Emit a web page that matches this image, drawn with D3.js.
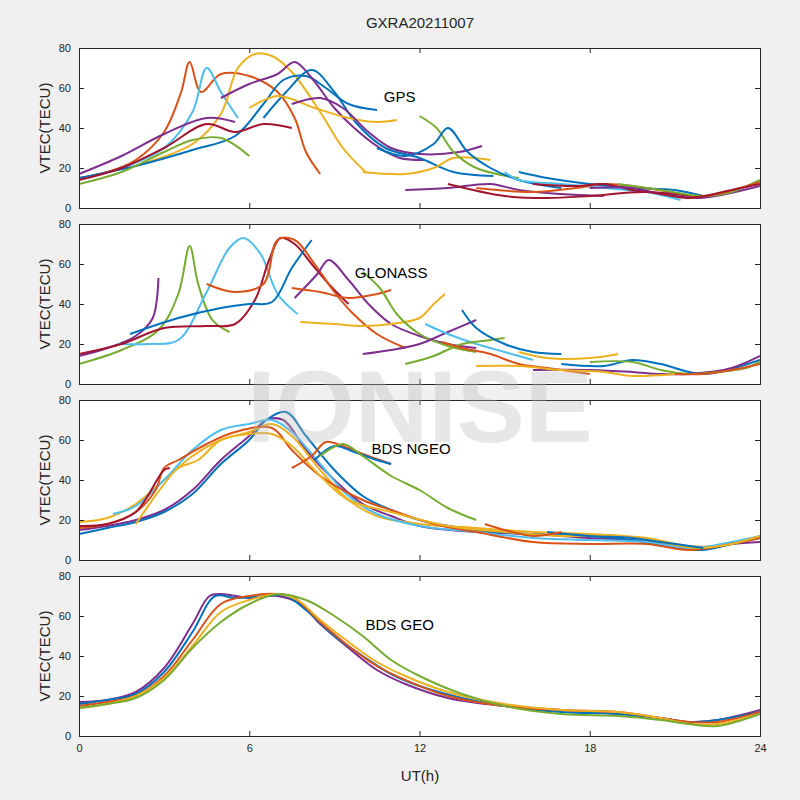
<!DOCTYPE html>
<html><head><meta charset="utf-8">
<script src="https://cdn.jsdelivr.net/npm/d3@7"></script>
<style>body{margin:0;background:#f0f0f0}svg{font-family:Arial,"Liberation Sans",sans-serif}</style>
</head><body><svg id="c" width="800" height="800"></svg>
<script>
// arcs: [hour, VTEC] samples
const gpsArcs = [
  [[0,15],[1,18],[2,24],[3,38],[3.6,58],[3.9,73],[4.3,58],[5,67],[6,66],[7,58],[7.6,45],[8,28],[8.5,17]],
  [[1.5,20],[3,30],[4,48],[4.5,70],[5,58],[5.6,45]],
  [[2.2,22],[4,32],[5,47],[5.6,70],[6.2,77],[6.8,76],[7.5,68],[8.5,48],[9.3,30],[10.1,18]],
  [[0,15],[2,21],[4,29],[5.5,36],[6.5,52],[7.2,64],[8,66],[8.7,60],[9.5,52],[10.5,49]],
  [[0,17],[1.5,26],[3,37],[4.5,45],[5.5,43]],
  [[0,12],[1.5,18],[3,28],[4,34],[5,35],[6,26]],
  [[0,14],[1.5,20],[3,30],[4.5,42],[5.5,38],[6.5,42],[7.5,40]],
  [[5,55],[6,62],[7,67],[7.6,73],[8.2,65],[9,50],[9.7,40],[10.6,30],[11.3,25],[12.2,24]],
  [[6.5,45],[7.3,58],[8.2,69],[9,58],[9.8,42],[10.8,30],[12,25],[13.2,18],[14.6,16]],
  [[6,50],[7,56],[8.3,50],[9.5,45],[10.5,43],[11.2,44]],
  [[7.5,52],[8.5,55],[9.3,50],[10.2,38],[11,30],[12,27],[13.4,28],[14.2,31]],
  [[10,18],[11.5,17],[12.5,20],[13.2,25],[14.5,24]],
  [[12,46],[12.6,40],[13.2,28],[14,20],[15.5,15]],
  [[10.5,30],[11.5,26],[12.5,32],[13,40],[13.7,28],[14.5,20],[15.5,14],[17,10]],
  [[11.5,9],[13,10],[14.5,12],[15.5,9],[17,7],[18.5,6]],
  [[15,18],[15.5,14],[17,12],[18.5,10],[20,8],[21.2,4]],
  [[15.5,18],[16.5,15],[18,12],[19.5,10],[21,9],[22,6]],
  [[14,10],[16,8],[17.5,10],[18.5,12],[20,10],[21.5,6]],
  [[16,12],[17.5,11],[18.5,12],[19.5,9],[21,7],[22,5]],
  [[18,10],[19.5,10],[20.5,7],[21.8,5],[22.8,7],[24,11]],
  [[19,12],[20.5,9],[22,6],[23,8],[24,14]],
  [[21.5,5],[22.5,7],[23.3,10],[24,13]],
  [[13,12],[15,6],[16.5,5],[18,6],[20,8],[21.5,5],[23,9],[24,12]]
];
const gpsColors = [1,5,2,0,3,4,6,3,0,2,3,2,4,0,3,5,0,1,6,3,4,1,6];

const glonassArcs = [
  [[0,14],[1,18],[2,24],[2.6,33],[2.8,53]],
  [[0,10],[1.5,17],[2.8,27],[3.5,45],[3.9,69],[4.2,50],[4.7,32],[5.3,26]],
  [[1.4,20],[2.5,20],[3.5,22],[4.5,46],[5.3,68],[5.8,73],[6.4,65],[7,45],[7.7,35]],
  [[0,15],[1.5,20],[3,28],[4.5,29],[5.5,30],[6.2,42],[6.7,62],[7.1,73],[7.6,70],[8.2,60],[8.8,50],[9.5,40]],
  [[1.8,25],[3.5,33],[5,38],[6,40],[6.8,41],[7.5,58],[8.2,72]],
  [[4.5,50],[5.5,46],[6.5,50],[7,72],[7.6,72],[8.3,60],[9,46],[9.6,36],[10.5,25],[11.5,18]],
  [[7.6,43],[8.4,55],[8.8,62],[9.5,52],[10.2,40],[11,30],[12,24],[13,20],[14,18]],
  [[7.5,48],[8.5,46],[9.5,43],[10.5,45],[11,47]],
  [[7.8,31],[9,30],[10,29],[11,30],[12,33],[12.5,40],[12.9,45]],
  [[10,56],[10.6,48],[11.2,35],[12,25],[13,19],[14,16]],
  [[10,15],[11,17],[12,20],[13,26],[14,32]],
  [[12.2,30],[13,25],[14,20],[15,16],[16,12]],
  [[11.5,10],[12.5,14],[13.5,20],[14.5,22],[15,23]],
  [[12.8,21],[13.5,18],[14.5,15],[15.5,10],[16.5,8],[18,5]],
  [[13.5,37],[14,28],[15,20],[16,16],[17,15]],
  [[15.5,16],[16.5,13],[18,13],[19,15]],
  [[17,10],[18.5,9],[19.5,12],[20.5,10],[22,5],[24,12]],
  [[16,7],[18,7],[19.5,6],[20.5,5],[21.5,5],[23,8],[24,14]],
  [[18,11],[19.5,11],[20.5,7],[21.5,5],[22.5,6],[23.5,8],[24,11]],
  [[14,9],[15.5,9],[17,7],[18.5,6],[19.5,4],[21,5]],
  [[21,5],[22,5],[23,7],[24,10]]
];
const glonassColors = [3,4,5,6,0,1,3,1,2,4,3,5,4,1,0,2,0,3,4,2,1];

const ngeoArcs = [
  [[0,15],[1,17],[2,20],[3,25],[4,35],[5,50],[6,62],[6.6,70],[7.2,70],[8,55],[9,40],[10,28],[11,22],[12,17],[14,14],[16,13],[18,11],[19.5,10],[21,7],[22,6],[23,8],[24,9]],
  [[0,13],[1,16],[2,19],[3,24],[4,33],[5,48],[6,60],[6.6,70],[7.3,74],[8,62],[9,45],[10,32],[11,25],[12,20],[14,15],[16,13],[18,12],[19.5,10],[21,6],[22,5],[23,8],[24,11]],
  [[0,19],[1,21],[2,28],[3,40],[4,52],[5,60],[6,64],[6.8,68],[7.5,62],[8.5,45],[9.5,30],[10.5,22],[12,18],[14,16],[16,14],[18,13],[20,11],[21.5,7],[22.5,7],[24,12]],
  [[1.2,23],[2,27],[3,40],[4,55],[5,65],[6,68],[6.8,70],[7.5,64],[8.5,48],[9.5,32],[10.5,23],[12,17],[14,14],[16,11],[18,10],[20,9],[21.5,6],[23,9],[24,12]],
  [[0,16],[1,18],[2,24],[2.7,35],[3,46],[3.5,50],[4.5,58],[5.5,64],[6.8,66],[7.5,55],[8.5,42],[10,30],[11,25],[12.5,18],[14,14],[16,9],[18,8],[20,8],[21.5,5],[23,8],[24,11]],
  [[2,18],[3,38],[3.5,46],[4.2,50],[5,60],[6,63],[6.8,63],[7.5,57],[8.5,42],[9.5,30],[11,24],[13,17],[15,14],[17,12],[19,12],[20.5,9],[21.7,6],[23,8],[24,12]],
  [[0,17],[1,18],[2,24],[3,45],[3.2,46]],
  [[7.5,46],[8.2,52],[8.7,59],[9.3,57],[10,53],[10.8,49],[11,48]],
  [[8.3,50],[9,57],[9.7,54],[10.5,50],[11,48]],
  [[8.5,52],[9.3,58],[10,52],[11,42],[12,35],[13,26],[14,20]],
  [[16.5,14],[18,12],[19.5,11],[20.5,9],[22,6]],
  [[14.3,18],[15,15],[16,12],[17,14]]
];
const ngeoColors = [3,0,2,5,1,2,6,1,0,4,0,1];

const geoArcs = [
  [[0,17],[1,18],[2,22],[3,34],[4,56],[4.6,70],[5,71],[6,69],[7,70],[7.8,66],[8.5,56],[9.5,44],[10.5,33],[11.5,26],[13,19],[15,15],[17,13],[19,11],[20.5,9],[21.5,7],[22.5,8],[24,13]],
  [[0,16],[1,18],[2,21],[3,32],[4,52],[4.8,70],[5.5,69],[6.5,70],[7.3,70],[8,63],[9,50],[10,40],[11,31],[12,25],[13.5,19],[15,15],[17,12],[19,11],[20.5,9],[21.5,7],[22.5,8],[24,12]],
  [[0,15],[1,17],[2,20],[3,30],[4,48],[5,66],[6,70],[7,71],[7.6,69],[8.5,57],[9.5,45],[10.5,35],[11.5,28],[13,20],[15,15],[17,13],[19,12],[20.5,9],[21.5,7],[22.5,7],[24,12]],
  [[0,14],[1,16],[2,20],[3,29],[4,45],[5,62],[6,68],[7,71],[7.7,68],[8.5,58],[9.5,47],[10.5,37],[11.5,30],[13,22],[15,16],[17,13],[19,12],[20.5,9],[21.5,6],[22.5,6],[24,11]],
  [[0,14],[1,16],[2,19],[3,28],[4,44],[5,57],[6,66],[7,71],[8,68],[9,60],[10,50],[11,38],[12,30],[13.5,21],[15,15],[17,11],[19,10],[20.5,8],[21.5,6],[22.5,5],[24,11]]
];
const geoColors = [3,0,1,2,4];

const panelNames = ["GPS", "GLONASS", "BDS NGEO", "BDS GEO"];
const panelLabelPos = [[11.3, 53], [11, 53], [11.7, 53], [11.3, 53]];
const yTicks = [0, 20, 40, 60, 80];
const xTicks = [0, 6, 12, 18, 24];
const palette = ["#0072BD","#D95319","#EDB120","#7E2F8E","#77AC30","#4DBEEE","#A2142F"];

const svg = d3.select("#c");
const L = 79, R = 760, tops = [48, 224, 400, 576], H = 160;
const x = d3.scaleLinear().domain([0, 24]).range([L, R]);

svg.append("text").attr("x", 420).attr("y", 28).attr("text-anchor", "middle")
  .attr("font-size", 15).attr("fill", "#262626").text("GXRA20211007");

const panels = [[gpsArcs, gpsColors], [glonassArcs, glonassColors], [ngeoArcs, ngeoColors], [geoArcs, geoColors]];

panels.forEach(([arcs, cols], i) => {
  const top = tops[i];
  const y = d3.scaleLinear().domain([0, 80]).range([top + H, top]);
  const g = svg.append("g");
  g.append("rect").attr("x", L).attr("y", top).attr("width", R - L).attr("height", H).attr("fill", "#fff");

  const cid = "clip" + i;
  svg.append("clipPath").attr("id", cid).append("rect")
    .attr("x", L).attr("y", top).attr("width", R - L).attr("height", H);

  const line = d3.line().x(d => x(d[0])).y(d => y(d[1])).curve(d3.curveCatmullRom);
  g.append("g").attr("clip-path", `url(#${cid})`).selectAll("path").data(arcs).enter()
    .append("path").attr("d", line).attr("fill", "none")
    .attr("stroke", (d, j) => palette[cols[j]]).attr("stroke-width", 2);

  const ya = g.append("g").attr("transform", `translate(${L},0)`)
    .call(d3.axisLeft(y).tickValues(yTicks).tickSize(-5).tickPadding(8));
  const yr = g.append("g").attr("transform", `translate(${R},0)`)
    .call(d3.axisRight(y).tickValues(yTicks).tickSize(-5).tickFormat(""));
  const xa = g.append("g").attr("transform", `translate(0,${top + H})`)
    .call(d3.axisBottom(x).tickValues(xTicks).tickSize(-5).tickPadding(8).tickFormat(i === 3 ? d3.format("d") : ""));
  const xt = g.append("g").attr("transform", `translate(0,${top})`)
    .call(d3.axisTop(x).tickValues(xTicks).tickSize(-5).tickFormat(""));
  [ya, yr, xa, xt].forEach(a => {
    a.selectAll("path,line").attr("stroke", "#262626");
    a.selectAll("text").attr("font-size", 11).attr("fill", "#262626").style("font-family", "Arial,'Liberation Sans',sans-serif");
  });

  g.append("text").attr("transform", `translate(50,${top + H / 2}) rotate(-90)`)
    .attr("text-anchor", "middle").attr("font-size", 15).attr("fill", "#262626").text("VTEC(TECU)");
  g.append("text").attr("x", x(panelLabelPos[i][0])).attr("y", y(panelLabelPos[i][1]))
    .attr("text-anchor", "middle").attr("font-size", 15).attr("fill", "#000").text(panelNames[i]);
});

svg.append("text").attr("x", 420).attr("y", 781).attr("text-anchor", "middle")
  .attr("font-size", 15).attr("fill", "#262626").text("UT(h)");

svg.append("text").attr("x", 420).attr("y", 442).attr("text-anchor", "middle")
  .attr("font-size", 102).attr("font-weight", "bold").attr("fill", "#bbb").attr("opacity", 0.35)
  .text("IONISE");
</script></body></html>
